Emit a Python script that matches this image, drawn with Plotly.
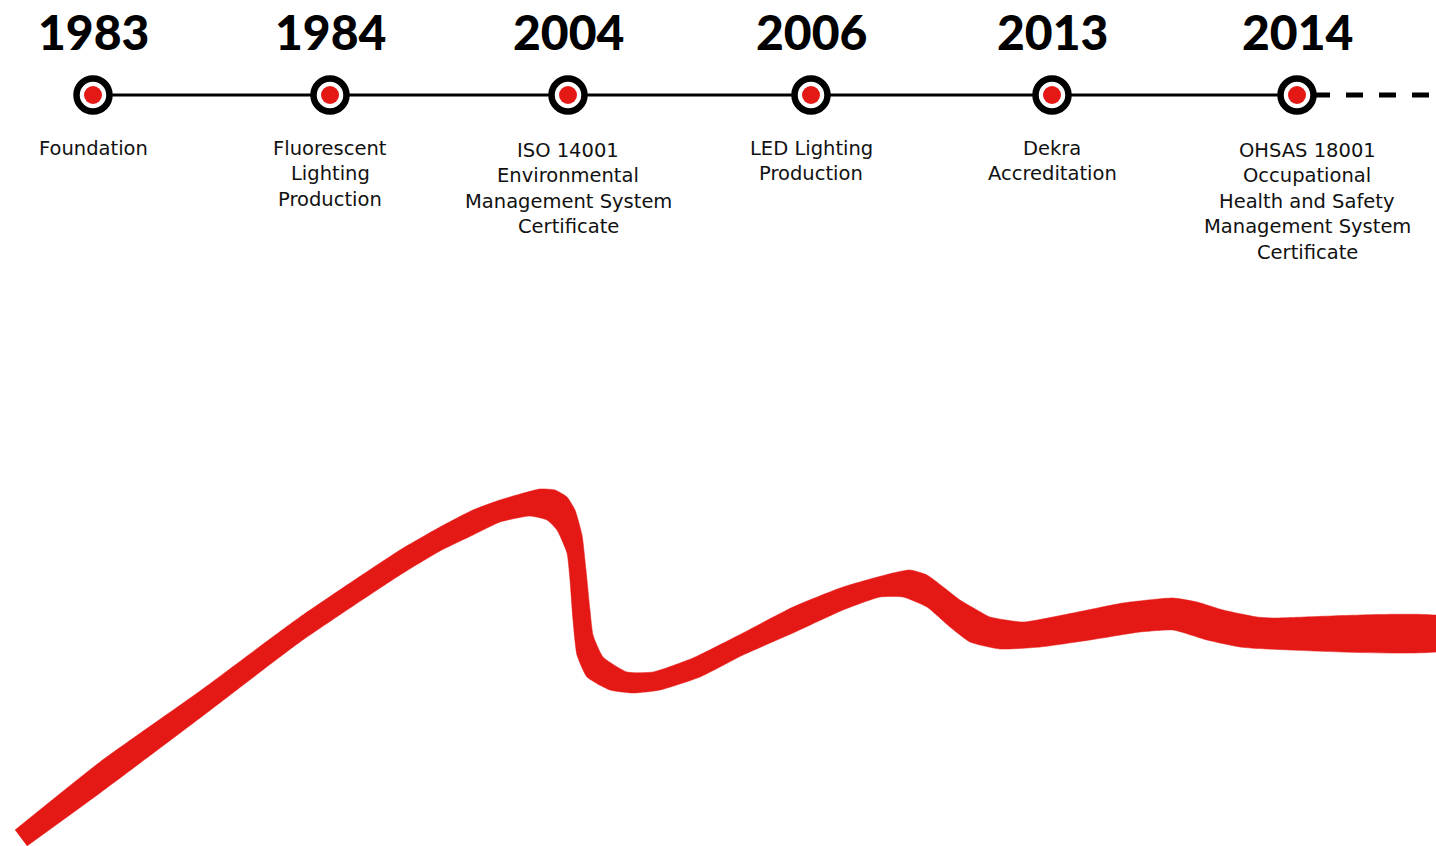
import plotly.graph_objects as go

# ---------------- data ----------------
years = ["1983", "1984", "2004", "2006", "2013", "2014"]
milestones = [
    ["Foundation"],
    ["Fluorescent", "Lighting", "Production"],
    ["ISO 14001", "Environmental", "Management System", "Certificate"],
    ["LED Lighting", "Production"],
    ["Dekra", "Accreditation"],
    ["OHSAS 18001", "Occupational", "Health and Safety", "Management System", "Certificate"],
]

# decorative red wave band (upper and lower edges)
wave_upper_x = [15, 100, 200, 300, 400, 440, 473, 500, 540, 555, 567, 575, 582, 586, 590, 593,
                603, 627, 653, 693, 743, 793, 843, 893, 910, 927, 960, 977, 990, 1023, 1073,
                1123, 1173, 1197, 1223, 1257, 1273, 1450]
wave_upper_y = [830, 762, 691, 617, 550, 527, 510, 500, 489, 490, 497, 510, 535, 570, 610, 635,
                657, 672, 672, 658, 633, 607, 587, 573, 570, 575, 600, 610, 617, 622, 613,
                603, 598, 602, 610, 617, 618, 618]
wave_lower_x = [27, 100, 200, 300, 400, 440, 473, 500, 530, 547, 557, 567, 570, 573, 577, 587,
                610, 633, 660, 700, 743, 793, 843, 880, 903, 927, 950, 970, 1000, 1040, 1090,
                1140, 1173, 1207, 1240, 1267, 1450]
wave_lower_y = [846, 793, 718, 642, 575, 551, 535, 522, 516, 520, 530, 553, 580, 620, 655, 677,
                690, 693, 690, 677, 655, 633, 610, 597, 597, 607, 627, 642, 649, 647, 640,
                632, 630, 640, 647, 649, 649]

# ---------------- layout constants ----------------
W, H = 1436, 846
RED = "#E41815"
marker_x = [93, 330, 568, 811, 1052, 1297]
label_dx = [0, 0, 0, 0, 0, 10]
line_y = 95
label_top = 148
label_step = 25.6

fig = go.Figure()

# red band
fig.add_trace(go.Scatter(
    x=wave_upper_x + wave_lower_x[::-1],
    y=wave_upper_y + wave_lower_y[::-1],
    mode="lines", fill="toself", fillcolor=RED,
    line=dict(color=RED, width=0.5, shape="spline", smoothing=0.5),
    hoverinfo="skip", showlegend=False,
))

# timeline solid line
fig.add_trace(go.Scatter(
    x=[marker_x[0], marker_x[-1]], y=[line_y, line_y], mode="lines",
    line=dict(color="black", width=3), hoverinfo="skip", showlegend=False,
))
# dashed continuation
fig.add_trace(go.Scatter(
    x=[marker_x[-1] + 16, W + 20], y=[line_y, line_y], mode="lines",
    line=dict(color="black", width=5, dash="17px,16px"), hoverinfo="skip", showlegend=False,
))

# markers: ring + red dot
fig.add_trace(go.Scatter(
    x=marker_x, y=[line_y] * len(marker_x), mode="markers",
    marker=dict(size=33, color="white", line=dict(color="black", width=6.5)),
    hoverinfo="skip", showlegend=False,
))
fig.add_trace(go.Scatter(
    x=marker_x, y=[line_y] * len(marker_x), mode="markers",
    marker=dict(size=18, color=RED, line=dict(width=0)),
    hoverinfo="skip", showlegend=False,
))

for i, (yr, lines) in enumerate(zip(years, milestones)):
    fig.add_annotation(
        x=marker_x[i], y=31, text=yr, showarrow=False,
        xanchor="center", yanchor="middle",
        font=dict(family="Lato", size=48, color="black", weight=900),
    )
    top = label_top + (2 if len(lines) >= 4 else 0)
    for j, ln in enumerate(lines):
        fig.add_annotation(
            x=marker_x[i] + label_dx[i], y=top + j * label_step, text=ln, showarrow=False,
            xanchor="center", yanchor="middle", align="center",
            font=dict(family="DejaVu Sans", size=19.5, color="#111111"),
        )

fig.update_layout(
    width=W, height=H,
    margin=dict(l=0, r=0, t=0, b=0),
    paper_bgcolor="white", plot_bgcolor="white",
    xaxis=dict(range=[0, W], visible=False, fixedrange=True),
    yaxis=dict(range=[H, 0], visible=False, fixedrange=True),
    showlegend=False,
)

fig.write_html(
    "out.html",
    config={"displayModeBar": False, "staticPlot": True},
    post_script="document.body.style.margin='0';document.body.style.overflow='hidden';",
)
